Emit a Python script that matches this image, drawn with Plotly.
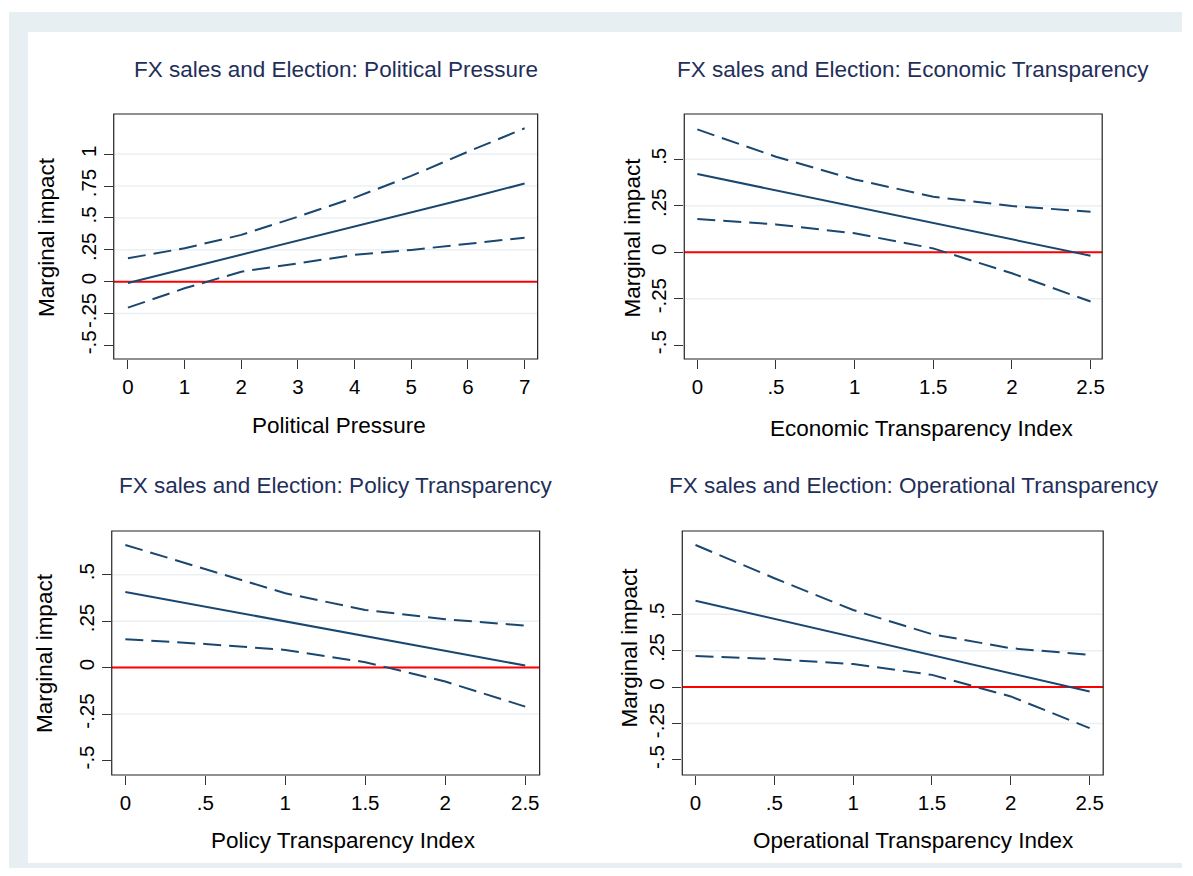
import plotly.graph_objects as go

# ---------------- data ----------------
x_pp = [0, 1, 2, 3, 4, 5, 6, 7]
mid_pp = [-0.01, 0.10, 0.21, 0.325, 0.435, 0.545, 0.655, 0.77]
up_pp = [0.184, 0.262, 0.367, 0.51, 0.66, 0.83, 1.02, 1.204]
lo_pp = [-0.204, -0.052, 0.078, 0.144, 0.21, 0.249, 0.296, 0.345]

x_et = [0, 0.5, 1, 1.5, 2, 2.5]
mid_et = [0.421, 0.333, 0.245, 0.158, 0.070, -0.018]
up_et = [0.661, 0.514, 0.392, 0.299, 0.249, 0.218]
lo_et = [0.179, 0.150, 0.102, 0.021, -0.113, -0.265]

x_pt = [0, 0.5, 1, 1.5, 2, 2.5]
mid_pt = [0.407, 0.328, 0.249, 0.169, 0.090, 0.011]
up_pt = [0.66, 0.529, 0.40, 0.31, 0.26, 0.226]
lo_pt = [0.153, 0.127, 0.095, 0.029, -0.075, -0.21]

x_ot = [0, 0.5, 1, 1.5, 2, 2.5]
mid_ot = [0.593, 0.468, 0.344, 0.219, 0.095, -0.030]
up_ot = [0.975, 0.747, 0.529, 0.363, 0.267, 0.221]
lo_ot = [0.214, 0.192, 0.158, 0.084, -0.064, -0.281]

titles = ["FX sales and Election: Political Pressure",
          "FX sales and Election: Economic Transparency",
          "FX sales and Election: Policy Transparency",
          "FX sales and Election: Operational Transparency"]
xtitles = ["Political Pressure", "Economic Transparency Index",
           "Policy Transparency Index", "Operational Transparency Index"]
ytitle = "Marginal impact"

yt_pp = [-0.5, -0.25, 0, 0.25, 0.5, 0.75, 1]
yl_pp = ["-.5", "-.25", "0", ".25", ".5", ".75", "1"]
yt_std = [-0.5, -0.25, 0, 0.25, 0.5]
yl_std = ["-.5", "-.25", "0", ".25", ".5"]
xt_pp = [0, 1, 2, 3, 4, 5, 6, 7]
xl_pp = ["0", "1", "2", "3", "4", "5", "6", "7"]
xt_tr = [0, 0.5, 1, 1.5, 2, 2.5]
xl_tr = ["0", ".5", "1", "1.5", "2", "2.5"]

# ---------------- layout geometry ----------------
OFF = 8                      # page body margin of the html page
W, H = 1193 - 2 * OFF, 876 - 2 * OFF
NAVY = "#1A476F"
TITLE_C = "#1F2F5A"
GRID_C = "#EAF0F3"
OUTER_C = "#E8EFF2"
FONT = "Arial, Liberation Sans, sans-serif"


def fx(px):
    return (px - OFF) / W


def fy(py):
    return 1 - (py - OFF) / H


panels = [
    dict(x=x_pp, mid=mid_pp, up=up_pp, lo=lo_pp, yt=yt_pp, yl=yl_pp, xt=xt_pp, xl=xl_pp,
         px=(114, 539), py=(114, 359), xr=[-0.25, 7.23], yr=[-0.607, 1.316],
         tpos=(337, 69), xtpos=(340, 426), ytpos=(46, 237)),
    dict(x=x_et, mid=mid_et, up=up_et, lo=lo_et, yt=yt_std, yl=yl_std, xt=xt_tr, xl=xl_tr,
         px=(686, 1105), py=(114, 359), xr=[-0.083, 2.574], yr=[-0.574, 0.744],
         tpos=(915, 69), xtpos=(924, 428), ytpos=(634, 237)),
    dict(x=x_pt, mid=mid_pt, up=up_pt, lo=lo_pt, yt=yt_std, yl=yl_std, xt=xt_tr, xl=xl_tr,
         px=(112, 541), py=(531, 775), xr=[-0.085, 2.59], yr=[-0.578, 0.735],
         tpos=(336, 485), xtpos=(344, 840), ytpos=(44, 653)),
    dict(x=x_ot, mid=mid_ot, up=up_ot, lo=lo_ot, yt=yt_std, yl=yl_std, xt=xt_tr, xl=xl_tr,
         px=(684, 1106), py=(531, 775), xr=[-0.084, 2.586], yr=[-0.603, 1.071],
         tpos=(916, 485), xtpos=(916, 840), ytpos=(631, 647)),
]

fig = go.Figure()
shapes = []
annotations = []

# background frame
shapes.append(dict(type="rect", xref="paper", yref="paper", x0=fx(9), x1=1.0, y0=0, y1=fy(12),
                   fillcolor=OUTER_C, line=dict(width=0), layer="below"))
shapes.append(dict(type="rect", xref="paper", yref="paper", x0=fx(28), x1=fx(1190),
                   y0=fy(863), y1=fy(32),
                   fillcolor="white", line=dict(width=0), layer="below"))

layout_axes = {}
for i, p in enumerate(panels):
    n = i + 1
    xa = "x" if n == 1 else f"x{n}"
    ya = "y" if n == 1 else f"y{n}"
    xkey = "xaxis" if n == 1 else f"xaxis{n}"
    ykey = "yaxis" if n == 1 else f"yaxis{n}"

    for ys, dash in [(p["up"], "18px,8px"), (p["lo"], "18px,8px"), (p["mid"], "solid")]:
        fig.add_trace(go.Scatter(x=p["x"], y=ys, mode="lines", xaxis=xa, yaxis=ya,
                                 line=dict(color=NAVY, width=2, dash=dash),
                                 showlegend=False, hoverinfo="skip"))

    layout_axes[xkey] = dict(domain=[fx(p["px"][0]), fx(p["px"][1])], range=p["xr"],
                             anchor=ya, tickvals=p["xt"], ticktext=p["xl"],
                             ticks="outside", ticklen=9, tickcolor="#333333", tickwidth=1,
                             showgrid=False, zeroline=False, showline=False,
                             tickfont=dict(size=20.5, color="black", family=FONT))
    layout_axes[ykey] = dict(domain=[fy(p["py"][1]), fy(p["py"][0])], range=p["yr"],
                             anchor=xa, tickvals=p["yt"], ticktext=p["yl"], tickangle=-90,
                             ticks="outside", ticklen=9, tickcolor="#333333", tickwidth=1,
                             showgrid=False, zeroline=False, showline=False,
                             tickfont=dict(size=20.5, color="black", family=FONT))

    # gridlines (Stata omits the one at the lowest tick)
    for gv in p["yt"][1:]:
        shapes.append(dict(type="line", xref=f"{xa} domain", yref=ya, x0=0, x1=1, y0=gv, y1=gv,
                           line=dict(color=GRID_C, width=1.5), layer="below"))
    # zero reference line
    shapes.append(dict(type="line", xref=f"{xa} domain", yref=ya, x0=0, x1=1, y0=0, y1=0,
                       line=dict(color="#FF0000", width=2), layer="below"))
    # plot frame
    shapes.append(dict(type="rect", xref=f"{xa} domain", yref=f"{ya} domain", x0=0, x1=1, y0=0, y1=1,
                       line=dict(color="#222222", width=1.2), layer="above"))

    annotations.append(dict(text=titles[i], xref="paper", yref="paper",
                            x=fx(p["tpos"][0]), y=fy(p["tpos"][1]),
                            xanchor="center", yanchor="middle", showarrow=False,
                            font=dict(size=22.5, color=TITLE_C, family=FONT)))
    annotations.append(dict(text=xtitles[i], xref="paper", yref="paper",
                            x=fx(p["xtpos"][0]), y=fy(p["xtpos"][1]),
                            xanchor="center", yanchor="middle", showarrow=False,
                            font=dict(size=22.5, color="black", family=FONT)))
    annotations.append(dict(text=ytitle, xref="paper", yref="paper",
                            x=fx(p["ytpos"][0]), y=fy(p["ytpos"][1]), textangle=-90,
                            xanchor="center", yanchor="middle", showarrow=False,
                            font=dict(size=22.5, color="black", family=FONT)))

fig.update_layout(width=W, height=H, margin=dict(l=0, r=0, t=0, b=0),
                  paper_bgcolor="white", plot_bgcolor="rgba(0,0,0,0)",
                  shapes=shapes, annotations=annotations, showlegend=False,
                  font=dict(family=FONT), **layout_axes)

fig.write_html("out.html")
